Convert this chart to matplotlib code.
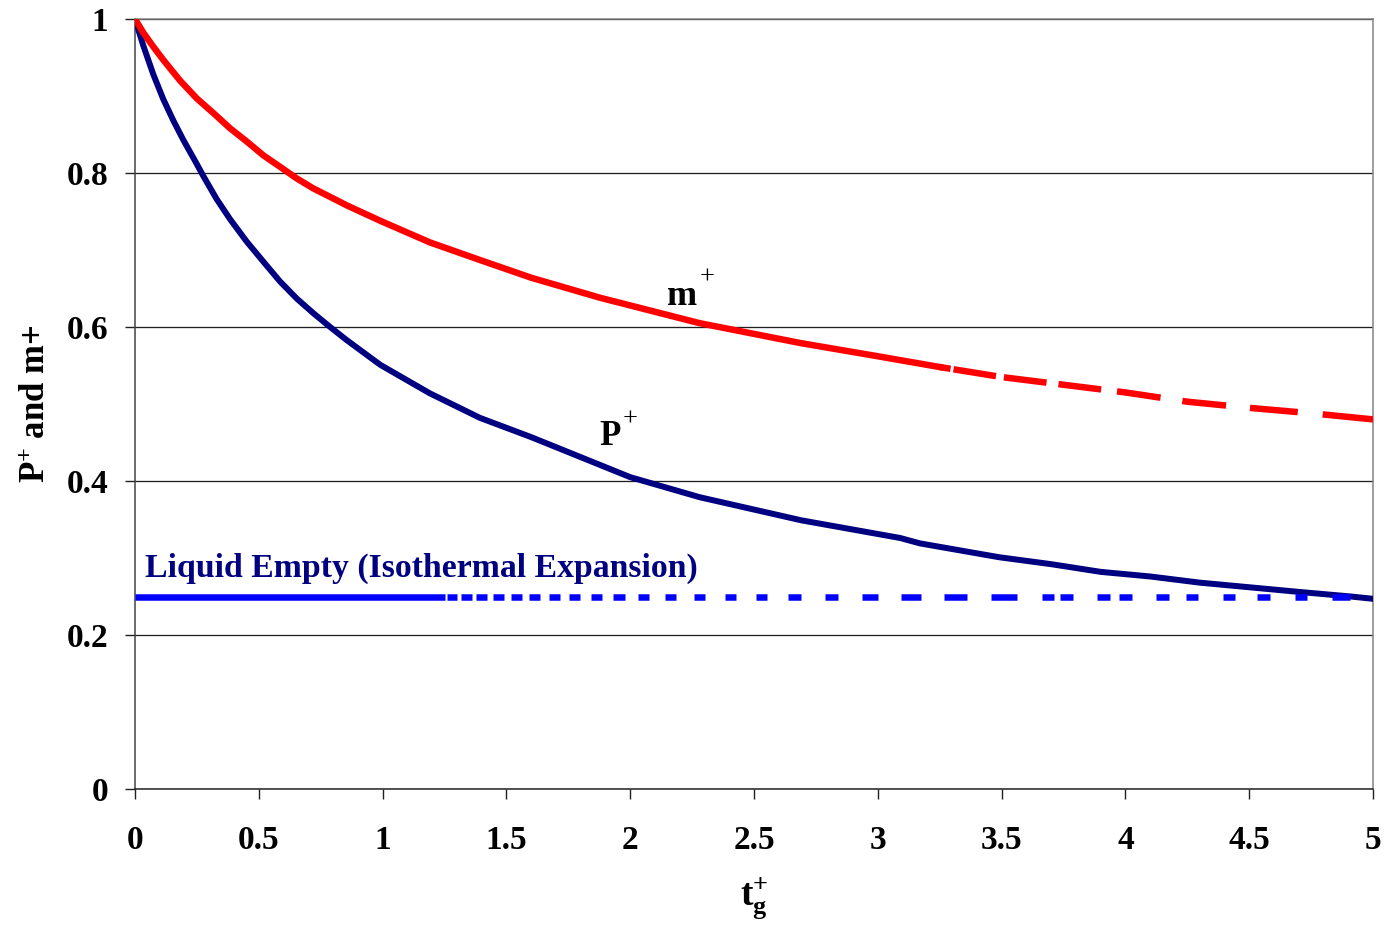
"""
P+ and m+ versus tg+ (gas discharge, liquid empty level)
"""
import numpy as np
from matplotlib import pyplot as plt

# data
t_p = [0, 0.034, 0.074, 0.114, 0.155, 0.195, 0.249, 0.276, 0.330, 0.384,
       0.451, 0.518, 0.586, 0.653, 0.720, 0.788, 0.855, 0.99, 1.19, 1.393,
       1.6, 1.8, 2.0, 2.28, 2.69, 3.09, 3.17, 3.49, 3.70, 3.90,
       4.10, 4.30, 4.50, 4.70, 4.91, 5.0]
p_plus = [1.0, 0.965, 0.928, 0.896, 0.868, 0.843, 0.812, 0.796, 0.766, 0.740,
          0.711, 0.685, 0.659, 0.637, 0.618, 0.600, 0.583, 0.551, 0.514, 0.482,
          0.457, 0.431, 0.405, 0.379, 0.349, 0.326, 0.319, 0.301, 0.292, 0.282,
          0.276, 0.268, 0.262, 0.256, 0.250, 0.247]

t_m = [0, 0.034, 0.074, 0.114, 0.182, 0.249, 0.316, 0.384, 0.451, 0.518,
       0.586, 0.653, 0.720, 0.788, 0.855, 0.99, 1.19, 1.393, 1.6, 1.878,
       2.28, 2.69, 3.0, 3.25, 3.5, 3.75, 4.0, 4.25, 4.5, 4.75, 5.0]
m_plus = [1.0, 0.982, 0.964, 0.947, 0.920, 0.897, 0.878, 0.858, 0.841, 0.823,
          0.808, 0.793, 0.780, 0.769, 0.758, 0.738, 0.710, 0.687, 0.664, 0.638,
          0.605, 0.579, 0.562, 0.548, 0.535, 0.525, 0.515, 0.503, 0.495, 0.488, 0.480]

t_empty = [0, 5]
p_empty = [0.25, 0.25]

x_ticks = [0, 0.5, 1, 1.5, 2, 2.5, 3, 3.5, 4, 4.5, 5]
x_labels = ['0', '0.5', '1', '1.5', '2', '2.5', '3', '3.5', '4', '4.5', '5']
y_ticks = [0, 0.2, 0.4, 0.6, 0.8, 1]
y_labels = ['0', '0.2', '0.4', '0.6', '0.8', '1']

# fonts
plt.rcParams['font.family'] = 'Liberation Serif'
plt.rcParams['font.weight'] = 'bold'
plt.rcParams['axes.labelweight'] = 'bold'
plt.rcParams['mathtext.fontset'] = 'custom'
plt.rcParams['mathtext.rm'] = 'Liberation Serif:bold'
plt.rcParams['mathtext.it'] = 'Liberation Serif:bold'
plt.rcParams['mathtext.bf'] = 'Liberation Serif:bold'
plt.rcParams['mathtext.sf'] = 'Liberation Serif'
plt.rcParams['lines.scale_dashes'] = False

DPI = 100
px = 72.0 / DPI  # one pixel in points

# dash patterns (pixels), Excel draws the sparse part of the series broken up
m_tail_dash = [11, 3, 43, 8, 43, 12, 43, 16, 44, 22, 44, 24, 48, 25, 80, 0]
empty_dash = [310, 2, 10, 4, 11, 4, 11, 6, 11, 7, 11, 7, 11, 9, 11, 9, 11, 11,
              11, 11, 12, 13, 11, 16, 11, 18, 11, 20, 11, 20, 11, 21, 13, 24,
              13, 24, 16, 23, 20, 23, 23, 24, 26, 25, 12, 6, 13, 24, 13, 9,
              13, 24, 13, 17, 12, 25, 12, 22, 13, 25, 12, 25, 18, 23, 20, 0]


def dash_pieces(pattern, limit=30):
    # agg keeps only 32 dash entries, so split a long pattern over several lines
    pieces = []
    skip = 0
    for i in range(0, len(pattern), limit):
        chunk = list(pattern[i:i + limit])
        seq = ([0.001, skip] if skip else []) + chunk
        seq[-1] += 5000
        pieces.append([v * px for v in seq])
        skip += sum(chunk)
    return pieces


fig = plt.figure(figsize=(13.84, 9.27), dpi=DPI)
ax = fig.add_axes([135 / 1384, 1 - 789 / 927, 1238 / 1384, 770 / 927])

t_m = np.array(t_m)
m_plus = np.array(m_plus)
head = t_m <= 3.25
tail = t_m >= 3.25

ax.plot(t_p, p_plus, color='#000080', lw=6 * px, zorder=3)
ax.plot(t_m[head], m_plus[head], color='#ff0000', lw=6.5 * px, zorder=3)
ax.plot(t_m[tail], m_plus[tail], color='#ff0000', lw=6.5 * px, zorder=3,
        linestyle=(0, [v * px for v in m_tail_dash]))
for seq in dash_pieces(empty_dash):
    ax.plot(t_empty, p_empty, color='#0000ff', lw=6.5 * px, zorder=4,
            linestyle=(0, seq))

# labels inside the plot (superscript plus drawn larger, like the original)
ax.text(2.149, 0.6286, 'm', fontsize=26, ha='left', va='baseline')
ax.annotate('+', xy=(2.149, 0.6286), xytext=(33 * px, 27 * px), textcoords='offset points',
            fontsize=19, fontweight='normal', ha='left', va='center')
ax.text(1.874, 0.4468, 'P', fontsize=25, ha='left', va='baseline')
ax.annotate('+', xy=(1.874, 0.4468), xytext=(24 * px, 25 * px), textcoords='offset points',
            fontsize=19, fontweight='normal', ha='left', va='center')
ax.text(0.04, 0.275, 'Liquid Empty (Isothermal Expansion)', fontsize=24.3,
        color='#000080', ha='left', va='baseline')

ax.set_xlim(0, 5)
ax.set_ylim(0, 1)
ax.set_xticks(x_ticks, x_labels, fontsize=24)
ax.set_yticks(y_ticks, y_labels, fontsize=24)
ax.tick_params(axis='x', direction='out', length=10 * px, width=1, pad=19, colors='#202020')
ax.tick_params(axis='y', direction='out', length=10 * px, width=1, pad=12, colors='#202020')
for lab in ax.get_xticklabels() + ax.get_yticklabels():
    lab.set_color('black')

ax.grid(axis='y', color='#202020', lw=1 * px * 1.3)
ax.set_axisbelow(True)
ax.spines['left'].set_color('#404040')
ax.spines['bottom'].set_color('#202020')
ax.spines['top'].set_color('#808080')
ax.spines['right'].set_color('#808080')
for s in ax.spines.values():
    s.set_linewidth(1.5 * px)

ax.set_xlabel(r'$\mathrm{t}_{\mathrm{g}}^{\mathsf{+}}$', fontsize=27, labelpad=14)
ax.set_ylabel(r'P$^{\mathsf{+}}$ and m+', fontsize=25, labelpad=10)

plt.savefig('out.png', dpi=DPI)
